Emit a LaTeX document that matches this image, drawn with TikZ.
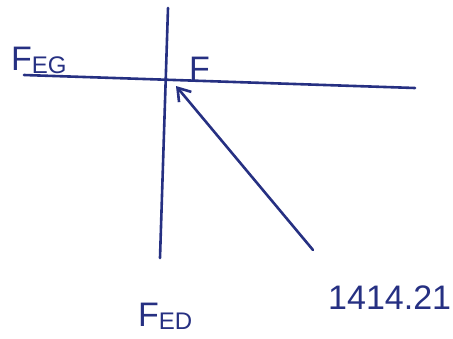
\documentclass[tikz,border=0pt]{standalone}
\usepackage{fontspec}
\setmainfont{Liberation Sans}
\usetikzlibrary{arrows.meta}
\begin{document}
\begin{tikzpicture}[x=1pt,y=-1pt,
  ink/.style={draw=inkblue,line width=2.6pt,line cap=round},
  lbl/.style={text=inkblue,inner sep=0pt,font=\fontsize{34}{38}\selectfont}]
\definecolor{inkblue}{RGB}{38,48,130}
\useasboundingbox (0,0) rectangle (453,338);
\coordinate (hl) at (24,75);
\coordinate (hr) at (415,88);
\coordinate (vt) at (168,8);
\coordinate (vb) at (160,258);
\coordinate (as) at (313,250);
\coordinate (at) at (176,86);
\draw[ink] (hl) -- (hr);
\draw[ink] (vt) -- (vb);
\draw[ink,-{Straight Barb[length=12pt,width=16pt]}] (as) -- (at);
\node[lbl,anchor=base west] (feg) at (11,70) {F\raisebox{-3pt}{\fontsize{24}{26}\selectfont EG}};
\node[lbl,anchor=base west] (f) at (189,80) {F};
\node[lbl,anchor=base west] (fed) at (138,326) {F\raisebox{-3pt}{\fontsize{24}{26}\selectfont ED}};
\node[lbl,anchor=base west] (val) at (328,309) {1414.21};
\end{tikzpicture}
\end{document}
